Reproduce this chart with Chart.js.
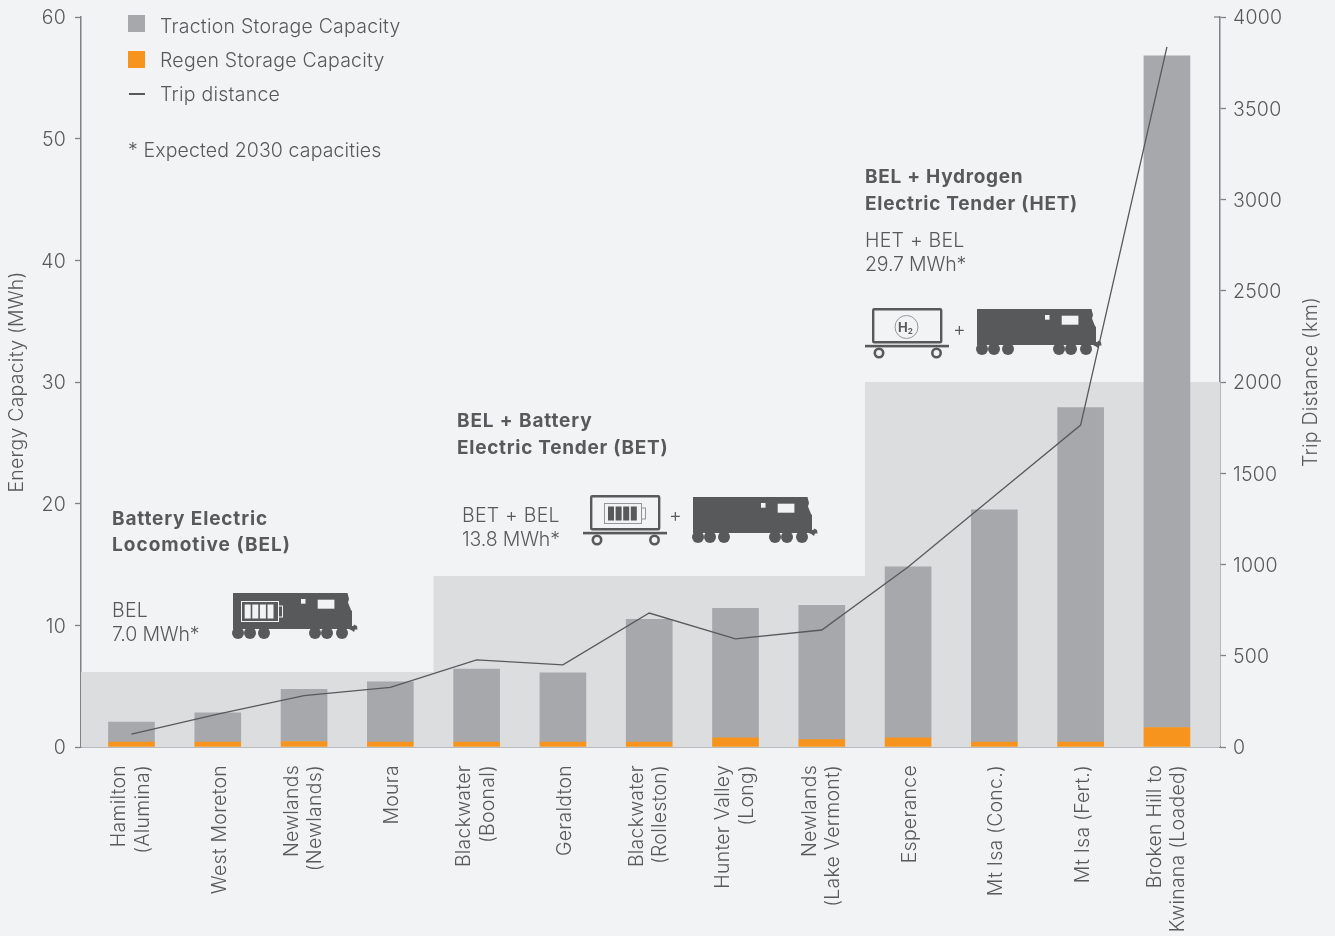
<!DOCTYPE html>
<html>
<head>
<meta charset="utf-8">
<title>Energy capacity and trip distance</title>
<script src="https://cdn.jsdelivr.net/npm/chart.js@4"></script>
<style>
  html, body { margin: 0; padding: 0; background: #f2f3f5; }
  #wrap { position: relative; width: 1335px; height: 936px; overflow: hidden; font-family: Inter, sans-serif; font-weight: 300; color: #58595b; }
  #chart { position: absolute; left: 0; top: 0; }
  .t { position: absolute; white-space: nowrap; font-size: 19.5px; letter-spacing: 0.24px; line-height: 24px; transform: translateY(-12px); }
  .b { font-size: 19px; font-weight: 700; letter-spacing: 0.72px; }
  .n { letter-spacing: -0.15px; }
  .swatch { position: absolute; width: 17px; height: 17px; }
  svg.icon { position: absolute; overflow: visible; }
</style>
</head>
<body>
<div id="wrap">
  <canvas id="chart" width="1335" height="936"></canvas>

  <div class="swatch" style="left:128px;top:15px;background:#a7a8ab"></div>
  <div class="t" style="left:160px;top:26px">Traction Storage Capacity</div>
  <div class="swatch" style="left:128px;top:51px;background:#f7941d"></div>
  <div class="t" style="left:160px;top:60px">Regen Storage Capacity</div>
  <div style="position:absolute;left:129px;top:93px;width:16px;height:1.5px;background:#58595b"></div>
  <div class="t" style="left:160px;top:94px">Trip distance</div>
  <div class="t" style="left:128px;top:150px;letter-spacing:0.12px">* Expected 2030 capacities</div>

  <div class="t b" style="left:112px;top:519px;letter-spacing:0.85px">Battery Electric</div>
  <div class="t b" style="left:112px;top:545px;letter-spacing:1.02px">Locomotive (BEL)</div>
  <div class="t" style="left:112px;top:610px">BEL</div>
  <div class="t n" style="left:112px;top:634px">7.0 MWh*</div>

  <div class="t b" style="left:457px;top:421px;letter-spacing:0.87px">BEL + Battery</div>
  <div class="t b" style="left:457px;top:448px">Electric Tender (BET)</div>
  <div class="t" style="left:462px;top:515px">BET + BEL</div>
  <div class="t n" style="left:462px;top:539px">13.8 MWh*</div>
  <div class="t" style="left:669px;top:515px">+</div>

  <div class="t b" style="left:865px;top:177px">BEL + Hydrogen</div>
  <div class="t b" style="left:865px;top:204px">Electric Tender (HET)</div>
  <div class="t" style="left:865px;top:240px">HET + BEL</div>
  <div class="t n" style="left:865px;top:264px">29.7 MWh*</div>
  <div class="t" style="left:953px;top:329px">+</div>

  <div class="t" style="left:1310px;top:382px;transform:translate(-50%,-50%) rotate(-90deg)">Trip Distance (km)</div>

  <!-- icones -->
  <svg width="0" height="0" style="position:absolute">
    <defs>
      <g id="loco">
        <path fill="#58595b" d="M0,0H114.5L116,6L115,9.5L118,17L119,18V33H120.5L121,31.5L124,33L124.5,36.5L122,36.5L121,39L119,37.5L116,36H0Z"/>
        <g fill="#58595b">
          <circle cx="5" cy="40" r="6"/><circle cx="17" cy="40" r="6"/><circle cx="31" cy="40" r="6"/>
          <circle cx="82" cy="40" r="6"/><circle cx="94" cy="40" r="6"/><circle cx="109" cy="40" r="6"/>
        </g>
        <rect x="84.7" y="6.7" width="16.7" height="9" fill="#f2f3f5"/>
        <rect x="68" y="6" width="4.5" height="4.7" fill="#f2f3f5"/>
      </g>
      <g id="tender">
        <rect x="1.2" y="1.2" width="68" height="33" rx="1" fill="none" stroke="#58595b" stroke-width="2.4"/>
        <rect x="-7" y="36.8" width="84" height="2.6" fill="#58595b"/>
        <circle cx="7" cy="45" r="4.2" fill="#f2f3f5" stroke="#58595b" stroke-width="2.6"/>
        <circle cx="64.5" cy="45" r="4.2" fill="#f2f3f5" stroke="#58595b" stroke-width="2.6"/>
      </g>
    </defs>
  </svg>

  <svg class="icon" style="left:233px;top:593px" width="125" height="47">
    <use href="#loco"/>
    <rect x="8.5" y="8.5" width="37" height="20" fill="none" stroke="#f2f3f5" stroke-width="1"/>
    <rect x="45.5" y="13" width="4" height="11" fill="none" stroke="#f2f3f5" stroke-width="1"/>
    <g fill="#f2f3f5">
      <rect x="11.7" y="11.5" width="6" height="14"/><rect x="19.3" y="11.5" width="6" height="14"/>
      <rect x="26.9" y="11.5" width="6" height="14"/><rect x="34.5" y="11.5" width="6" height="14"/>
    </g>
  </svg>

  <svg class="icon" style="left:590px;top:495px" width="80" height="52">
    <use href="#tender"/>
    <rect x="14.5" y="8.5" width="37" height="20" fill="none" stroke="#939598" stroke-width="1"/>
    <rect x="51.5" y="13" width="4" height="11" fill="none" stroke="#939598" stroke-width="1"/>
    <g fill="#58595b">
      <rect x="18" y="11.5" width="6" height="14"/><rect x="25.6" y="11.5" width="6" height="14"/>
      <rect x="33.2" y="11.5" width="6" height="14"/><rect x="40.8" y="11.5" width="6" height="14"/>
    </g>
  </svg>
  <svg class="icon" style="left:693px;top:497px" width="125" height="47"><use href="#loco"/></svg>

  <svg class="icon" style="left:872px;top:308px" width="80" height="52">
    <use href="#tender"/>
    <circle cx="34.5" cy="19" r="11.5" fill="none" stroke="#939598" stroke-width="1"/>
    <text x="33.5" y="24" text-anchor="middle" font-family="Inter, sans-serif" font-weight="700" font-size="13" fill="#58595b">H<tspan font-size="8" dy="2">2</tspan></text>
  </svg>
  <svg class="icon" style="left:977px;top:309px" width="125" height="47"><use href="#loco"/></svg>
</div>

<script>
// lecture des valeurs sur le graphique
const categories = [
    ['Hamilton', '(Alumina)'], 'West Moreton', ['Newlands', '(Newlands)'], 'Moura',
    ['Blackwater', '(Boonal)'], 'Geraldton', ['Blackwater', '(Rolleston)'], ['Hunter Valley', '(Long)'],
    ['Newlands', '(Lake Vermont)'], 'Esperance', 'Mt Isa (Conc.)', 'Mt Isa (Fert.)',
    ['Broken Hill to', 'Kwinana (Loaded)']
];
const regenValues = [0.4, 0.4, 0.45, 0.4, 0.4, 0.4, 0.4, 0.75, 0.6, 0.75, 0.4, 0.4, 1.6];
const tractionValues = [1.65, 2.4, 4.3, 4.95, 6.0, 5.7, 10.1, 10.65, 11.05, 14.05, 19.1, 27.5, 55.2];
const tripDistance = [71, 180, 281, 327, 477, 450, 734, 592, 641, 986, 1375, 1764, 3836];

const leftTicks = [0, 10, 20, 30, 40, 50, 60];
const rightTicks = [0, 500, 1000, 1500, 2000, 2500, 3000, 3500, 4000];

// bandes de fond (type de locomotive)
const bandEdges = [-0.585, 3.5, 8.5, 12.615];
const bandLevels = [6.17, 14.05, 30, 30];

const INK = '#58595b';
const AXIS = '#808285';
const tickFont = { family: 'Inter', size: 19.5, weight: 300 };

const tweaksPlugin = {
    id: 'tweaks',
    beforeDraw(chart) {
        chart.ctx.letterSpacing = '0.24px'; // le texte de reference est plus large
        // les libelles sur deux lignes sont centres sur la barre
        chart.scales.x.getLabelItems(chart.chartArea).forEach(item => {
            if (item.done) return;
            item.options.translation[0] += Array.isArray(item.label) ? -12 : 2;
            item.done = true;
        });
    },
    afterDraw(chart) {
        // petit trait au sommet de l'axe droit, il traverse l'axe
        const s = chart.scales.y2, ctx = chart.ctx;
        ctx.save();
        ctx.strokeStyle = AXIS;
        ctx.lineWidth = 1.3;
        ctx.beginPath();
        ctx.moveTo(s.left - 6, s.getPixelForValue(4000));
        ctx.lineTo(s.left, s.getPixelForValue(4000));
        ctx.stroke();
        ctx.restore();
    }
};

new Chart(document.getElementById('chart'), {
    type: 'bar',
    plugins: [tweaksPlugin],
    data: {
        datasets: [
            {
                type: 'line',
                label: 'Trip distance',
                data: tripDistance.map((v, i) => ({ x: i, y: v })),
                yAxisID: 'y2',
                borderColor: INK,
                borderWidth: 1.3,
                pointRadius: 0,
                tension: 0,
                order: 0
            },
            {
                label: 'Regen Storage Capacity',
                data: regenValues.map((v, i) => ({ x: i, y: v })),
                backgroundColor: '#f7941d',
                barThickness: 46,
                order: 1
            },
            {
                label: 'Traction Storage Capacity',
                data: tractionValues.map((v, i) => ({ x: i, y: v })),
                backgroundColor: '#a7a8ab',
                barThickness: 46,
                order: 1
            },
            {
                type: 'line',
                label: 'Band',
                data: bandEdges.map((e, i) => ({ x: e, y: bandLevels[i] })),
                stepped: 'before',
                fill: 'origin',
                backgroundColor: '#dcdddf',
                borderWidth: 0,
                pointRadius: 0,
                order: 2
            }
        ]
    },
    options: {
        responsive: false,
        animation: false,
        layout: { padding: { top: 17 } },
        plugins: { legend: { display: false }, tooltip: { enabled: false } },
        scales: {
            x: {
                type: 'linear',
                stacked: true,
                offset: false,
                min: -0.585,
                max: 12.615,
                afterBuildTicks: s => { s.ticks = categories.map((c, i) => ({ value: i })); },
                afterFit: s => { s.height = 189; },
                grid: { display: false },
                border: { color: AXIS, width: 1.5 },
                ticks: {
                    autoSkip: false,
                    minRotation: 90,
                    maxRotation: 90,
                    padding: 10,
                    color: INK,
                    font: tickFont,
                    callback: v => categories[v]
                }
            },
            y: {
                stacked: true,
                min: 0,
                max: 60,
                afterBuildTicks: s => { s.ticks = leftTicks.map(v => ({ value: v })); },
                afterFit: s => { s.width = 81; s.paddingTop = 0; s.paddingBottom = 0; },
                grid: { drawOnChartArea: false, tickLength: 6, tickColor: AXIS, tickWidth: 1.3 },
                border: { color: AXIS, width: 1.5 },
                ticks: { padding: 9, labelOffset: 1.5, color: INK, font: tickFont, callback: v => v },
                title: { display: true, text: 'Energy Capacity (MWh)', color: INK, font: tickFont, padding: { top: 5, bottom: 0 } }
            },
            y2: {
                position: 'right',
                min: 0,
                max: 4000,
                afterBuildTicks: s => { s.ticks = rightTicks.map(v => ({ value: v })); },
                afterFit: s => { s.width = 115; s.paddingTop = 0; s.paddingBottom = 0; },
                grid: { drawOnChartArea: false, tickLength: 6, tickColor: AXIS, tickWidth: 1.3 },
                border: { color: AXIS, width: 1.5 },
                ticks: { padding: 7, labelOffset: 1.5, color: INK, font: tickFont, callback: v => v }
            }
        }
    }
});
</script>
</body>
</html>
